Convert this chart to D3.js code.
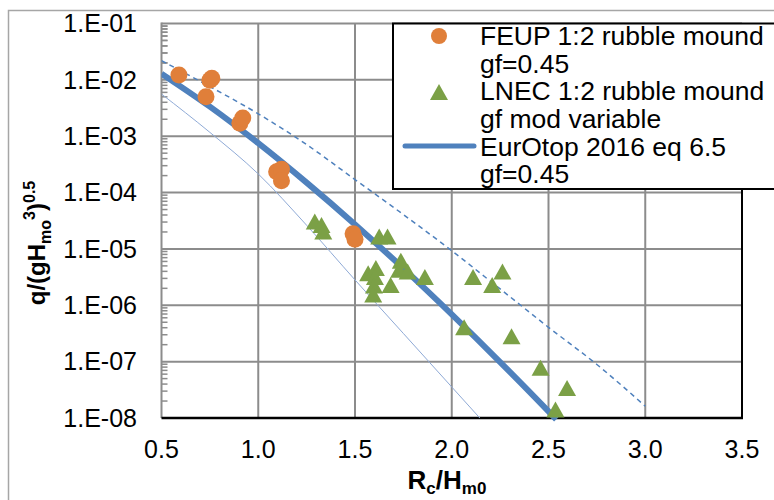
<!DOCTYPE html>
<html>
<head>
<meta charset="utf-8">
<script src="https://cdn.jsdelivr.net/npm/d3@7"></script>
<style>
  html, body { margin: 0; padding: 0; background: #fff; }
  svg { display: block; font-family: "Liberation Sans", Arial, sans-serif; }
</style>
</head>
<body>
<svg id="chart" width="774" height="500"></svg>
<script>
// ---- data ----
const xTicks = [0.5, 1.0, 1.5, 2.0, 2.5, 3.0, 3.5];
const yTicks = [1e-8, 1e-7, 1e-6, 1e-5, 1e-4, 1e-3, 1e-2, 1e-1];
const yTickLabels = ["1.E-08", "1.E-07", "1.E-06", "1.E-05", "1.E-04", "1.E-03", "1.E-02", "1.E-01"];

// FEUP 1:2 rubble mound gf=0.45 (circles)
const feupX = [0.59, 0.75, 0.76, 0.73, 0.905, 0.92, 1.095, 1.12, 1.12, 1.49, 1.50];
const feupY = [1.22e-2, 9.8e-3, 1.07e-2, 5.0e-3, 1.7e-3, 2.1e-3, 2.35e-4, 2.6e-4, 1.62e-4, 1.86e-5, 1.48e-5];

// LNEC 1:2 rubble mound gf mod variable (triangles)
const lnecX = [1.292, 1.327, 1.336, 1.625, 1.668, 1.737, 1.728, 1.772, 1.861, 1.568, 1.608, 1.603, 1.598, 1.684, 1.594,
               2.11, 2.262, 2.209, 2.064, 2.309, 2.459, 2.596, 2.536];
const lnecY = [3.06e-5, 2.67e-5, 2.04e-5, 1.66e-5, 1.66e-5, 6.2e-6, 4.27e-6, 3.98e-6, 3.16e-6, 3.7e-6, 4.57e-6, 3.16e-6, 2.24e-6, 2.29e-6, 1.55e-6,
               3.16e-6, 3.98e-6, 2.29e-6, 4.07e-7, 2.82e-7, 7.76e-8, 3.39e-8, 1.41e-8];

// EurOtop 2016 eq 6.5 gf=0.45 (thick line)
const eqX = [0.5, 0.75, 1.0, 1.25, 1.5, 1.75, 2.0, 2.25, 2.5, 2.54];
const eqY = [1.29e-2, 3.35e-3, 7.52e-4, 1.50e-4, 2.72e-5, 4.51e-6, 6.9e-7, 9.84e-8, 1.31e-8, 9.4e-9];

// upper dashed line
const upX = [0.5, 0.75, 1.0, 1.25, 1.5, 1.75, 2.0, 2.25, 2.5, 2.75, 3.0];
const upY = [2.19e-2, 7.6e-3, 2.5e-3, 7.1e-4, 1.7e-4, 4.07e-5, 9.3e-6, 1.95e-6, 4.07e-7, 8.9e-8, 1.62e-8];

// lower thin line
const loX = [0.5, 0.75, 1.0, 1.25, 1.5, 1.75, 2.0, 2.145];
const loY = [5.6e-3, 1.17e-3, 2.14e-4, 2.63e-5, 2.82e-6, 3.16e-7, 3.55e-8, 1.0e-8];

const legendRows = [
  ["FEUP 1:2 rubble mound", "gf=0.45"],
  ["LNEC 1:2 rubble mound", "gf mod variable"],
  ["EurOtop 2016 eq 6.5", "gf=0.45"]
];

// ---- layout ----
const W = 774, H = 500;
const plot = { left: 161.5, right: 742, top: 23.5, bottom: 418 };
const BLUE = "#4f81bd", ORANGE = "#e07f3a", GREEN = "#7ba046", GRID = "#8c8c8c";

const svg = d3.select("#chart");
svg.append("rect").attr("width", W).attr("height", H).attr("fill", "#fff");
// outer chart-area border
svg.append("rect").attr("x", 8.5).attr("y", 10.5).attr("width", 900).attr("height", 700)
  .attr("fill", "none").attr("stroke", "#a6a6a6").attr("stroke-width", 1.5);

const x = d3.scaleLinear().domain([0.5, 3.5]).range([plot.left, plot.right]);
const y = d3.scaleLog().domain([1e-8, 1e-1]).range([plot.bottom, plot.top]);

// gridlines
const g = svg.append("g");
g.selectAll("line.vg").data(xTicks.slice(1, -1)).join("line")
  .attr("x1", d => x(d)).attr("x2", d => x(d))
  .attr("y1", plot.top).attr("y2", plot.bottom)
  .attr("stroke", GRID).attr("stroke-width", 2);
g.selectAll("line.hg").data(yTicks.slice(1)).join("line")
  .attr("x1", plot.left).attr("x2", plot.right)
  .attr("y1", d => y(d)).attr("y2", d => y(d))
  .attr("stroke", GRID).attr("stroke-width", 2);

// left axis with minor ticks inside
const minor = [];
for (let e = -8; e < -1; e++) for (let m = 2; m <= 9; m++) minor.push(m * Math.pow(10, e));
for (let m = 2; m <= 9; m++) minor.push(m * 1e-2);
g.selectAll("line.mt").data(minor).join("line")
  .attr("x1", plot.left).attr("x2", plot.left + 6)
  .attr("y1", d => y(d)).attr("y2", d => y(d))
  .attr("stroke", GRID).attr("stroke-width", 1.5);
g.append("line").attr("x1", plot.left).attr("x2", plot.left)
  .attr("y1", plot.top - 1).attr("y2", plot.bottom)
  .attr("stroke", GRID).attr("stroke-width", 2);

// right border and bottom axis (black)
g.append("line").attr("x1", plot.right).attr("x2", plot.right)
  .attr("y1", plot.top).attr("y2", plot.bottom + 1)
  .attr("stroke", "#000").attr("stroke-width", 2);
g.append("line").attr("x1", plot.left).attr("x2", plot.right + 1)
  .attr("y1", plot.bottom).attr("y2", plot.bottom)
  .attr("stroke", "#000").attr("stroke-width", 2.5);

// tick labels
svg.append("g").selectAll("text").data(yTicks).join("text")
  .attr("x", 137).attr("y", d => y(d)).attr("dy", "0.35em")
  .attr("text-anchor", "end").attr("font-size", 25).attr("fill", "#000")
  .text((d, i) => yTickLabels[i]);
svg.append("g").selectAll("text").data(xTicks).join("text")
  .attr("x", d => x(d)).attr("y", 458)
  .attr("text-anchor", "middle").attr("font-size", 25).attr("fill", "#000")
  .text(d => d.toFixed(1));

// axis titles
const xt = svg.append("text").attr("x", 447).attr("y", 489)
  .attr("text-anchor", "middle").attr("font-size", 26).attr("font-weight", "bold");
xt.append("tspan").text("R");
xt.append("tspan").attr("font-size", 17).attr("dy", 5).text("c");
xt.append("tspan").attr("dy", -5).text("/H");
xt.append("tspan").attr("font-size", 17).attr("dy", 5).text("m0");

const yt = svg.append("text").attr("transform", "translate(45,243) rotate(-90)")
  .attr("text-anchor", "middle").attr("font-size", 24).attr("font-weight", "bold");
yt.append("tspan").text("q/(gH");
yt.append("tspan").attr("font-size", 16).attr("dy", 6).text("mo");
yt.append("tspan").attr("font-size", 16).attr("dy", -16).text("3");
yt.append("tspan").attr("dy", 10).text(")");
yt.append("tspan").attr("font-size", 16).attr("dy", -10).text("0.5");

// clip
svg.append("clipPath").attr("id", "clip").append("rect")
  .attr("x", plot.left).attr("y", plot.top).attr("width", plot.right - plot.left).attr("height", plot.bottom - plot.top + 4);

const line = d3.line().x(d => x(d[0])).y(d => y(d[1])).curve(d3.curveMonotoneX);
const lines = svg.append("g").attr("clip-path", "url(#clip)");
lines.append("path").datum(d3.zip(loX, loY)).attr("d", line)
  .attr("fill", "none").attr("stroke", "#8faad6").attr("stroke-width", 1);
lines.append("path").datum(d3.zip(upX, upY)).attr("d", line)
  .attr("fill", "none").attr("stroke", BLUE).attr("stroke-width", 1.5).attr("stroke-dasharray", "5,4");
lines.append("path").datum(d3.zip(eqX, eqY)).attr("d", line)
  .attr("fill", "none").attr("stroke", BLUE).attr("stroke-width", 6);

// markers
const tri = (cx, cy) => `M${cx},${cy - 8}L${cx + 9},${cy + 8}L${cx - 9},${cy + 8}Z`;
svg.append("g").selectAll("path").data(d3.zip(lnecX, lnecY)).join("path")
  .attr("d", d => tri(x(d[0]), y(d[1]))).attr("fill", GREEN);
svg.append("g").selectAll("circle").data(d3.zip(feupX, feupY)).join("circle")
  .attr("cx", d => x(d[0])).attr("cy", d => y(d[1])).attr("r", 8.5).attr("fill", ORANGE);

// legend
const lg = svg.append("g");
lg.append("rect").attr("x", 393).attr("y", 23.5).attr("width", 420).attr("height", 165.5)
  .attr("fill", "#fff").attr("stroke", "#000").attr("stroke-width", 2);
lg.append("circle").attr("cx", 439).attr("cy", 36).attr("r", 8).attr("fill", ORANGE);
lg.append("path").attr("d", tri(439, 92)).attr("fill", GREEN);
lg.append("line").attr("x1", 405).attr("x2", 474).attr("y1", 146).attr("y2", 146)
  .attr("stroke", BLUE).attr("stroke-width", 5).attr("stroke-linecap", "round");
const baselines = [45, 72.6, 100, 128, 155.5, 183];
legendRows.flat().forEach((t, i) => {
  lg.append("text").attr("x", 480).attr("y", baselines[i]).attr("font-size", 26.5).attr("fill", "#000").text(t);
});
</script>
</body>
</html>
